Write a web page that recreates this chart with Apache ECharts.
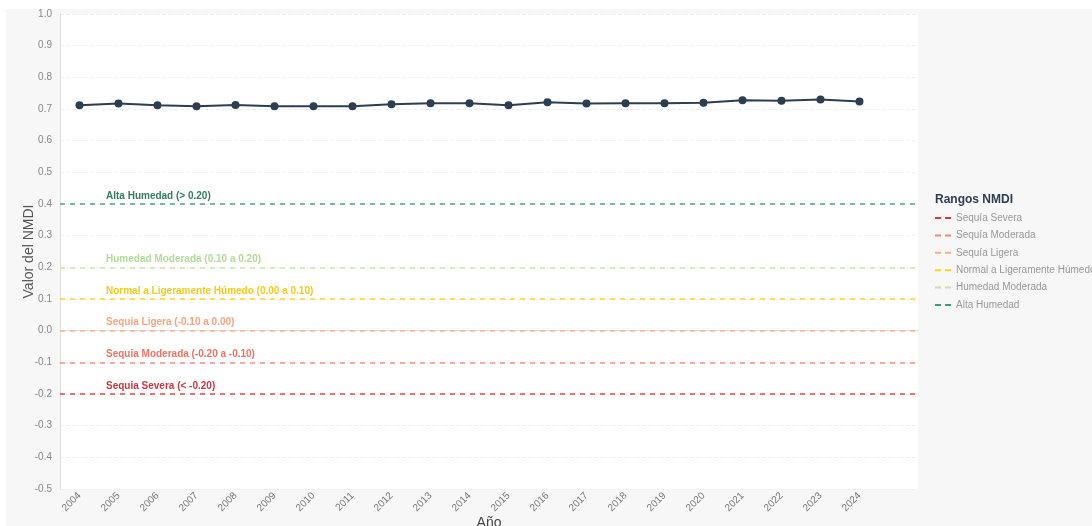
<!DOCTYPE html>
<html>
<head>
<meta charset="utf-8">
<script src="https://cdn.jsdelivr.net/npm/echarts@6/dist/echarts.min.js"></script>
<style>
  html, body { margin: 0; padding: 0; background: #fff; }
  #chart { width: 1092px; height: 526px; }
</style>
</head>
<body>
<div id="chart"></div>
<script>
// años y valores del NMDI
const years = ["2004", "2005", "2006", "2007", "2008", "2009", "2010", "2011", "2012", "2013",
  "2014", "2015", "2016", "2017", "2018", "2019", "2020", "2021", "2022", "2023", "2024"];
const nmdi = [0.712, 0.717, 0.712, 0.709, 0.713, 0.709, 0.709, 0.709, 0.715, 0.718,
  0.718, 0.712, 0.721, 0.717, 0.718, 0.718, 0.720, 0.728, 0.726, 0.730, 0.724];

// rangos NMDI (umbral, nombre de leyenda, etiqueta)
const rangeNames = ["Sequía Severa", "Sequía Moderada", "Sequía Ligera",
  "Normal a Ligeramente Húmedo", "Humedad Moderada", "Alta Humedad"];
const rangeValues = [-0.2, -0.1, 0.0, 0.1, 0.2, 0.4];
const rangeLabels = ["Sequia Severa (< -0.20)", "Sequia Moderada (-0.20 a -0.10)",
  "Sequia Ligera (-0.10 a 0.00)", "Normal a Ligeramente Húmedo (0.00 a 0.10)",
  "Humedad Moderada (0.10 a 0.20)", "Alta Humedad (> 0.20)"];
const rangeColors = ["#e0353b", "#f4867a", "#fbae8c", "#ffd21f", "#c3e6a8", "#3f9a78"];
const labelColors = ["#c8202e", "#ee6450", "#f89a70", "#f5c400", "#a9d98c", "#1b7048"];

const chart = echarts.init(document.getElementById("chart"));

// categoría vacía al final para dejar hueco a la derecha
const xCats = years.concat([""]);

const rangeSeries = rangeNames.map((name, i) => ({
  name: name,
  type: "line",
  data: [],
  symbol: "none",
  itemStyle: { color: rangeColors[i] },
  lineStyle: { color: rangeColors[i], type: "dashed", width: 1.5 },
  markLine: {
    silent: true,
    symbol: "none",
    lineStyle: { color: rangeColors[i], type: [5, 5], width: 1.5, opacity: 0.9 },
    label: {
      show: true,
      position: "insideStartTop",
      formatter: rangeLabels[i],
      color: labelColors[i],
      fontSize: 10,
      fontWeight: "bold",
      fontFamily: "Liberation Sans, Arial",
      padding: [0, 0, 0, 43],
      distance: 3,
    },
    data: [{ yAxis: rangeValues[i] }],
  },
}));

const option = {
  backgroundColor: "#fff",
  animation: false,
  textStyle: { fontFamily: "Liberation Sans, Arial" },
  graphic: [
    {
      type: "rect",
      left: 6,
      top: 9,
      z: -10,
      shape: { width: 1086, height: 517 },
      style: { fill: "#f7f7f7" },
    },
  ],
  title: {
    text: "Rangos NMDI",
    left: 930,
    top: 189,
    textStyle: { fontSize: 12, fontWeight: "bold", color: "#2c3e50" },
  },
  legend: {
    orient: "vertical",
    left: 930,
    top: 208,
    itemWidth: 16,
    itemHeight: 10,
    itemGap: 7.4,
    icon: "path://M0,4 L6,4 L6,6 L0,6 Z M10,4 L16,4 L16,6 L10,6 Z",
    data: rangeNames,
    textStyle: { fontSize: 10, color: "#999" },
  },
  grid: {
    left: 60,
    right: 174,
    top: 14,
    bottom: 37,
    outerBoundsMode: "none",
    containLabel: false,
    show: true,
    backgroundColor: "#fff",
    borderWidth: 0,
  },
  xAxis: {
    type: "category",
    data: xCats,
    boundaryGap: true,
    name: "Año",
    nameLocation: "middle",
    nameGap: 27,
    nameMoveOverlap: false,
    nameTextStyle: { fontSize: 14, color: "#444" },
    axisLine: { lineStyle: { color: "#ddd" } },
    axisTick: { show: false },
    axisLabel: { rotate: 45, fontSize: 10, color: "#777", margin: 5 },
    splitLine: { show: false },
  },
  yAxis: {
    type: "value",
    min: -0.5,
    max: 1.0,
    interval: 0.1,
    name: "Valor del NMDI",
    nameLocation: "middle",
    nameGap: 24,
    nameMoveOverlap: false,
    nameTextStyle: { fontSize: 14, color: "#555" },
    axisLine: { show: true, lineStyle: { color: "#ddd" } },
    axisTick: { show: false },
    axisLabel: {
      fontSize: 10,
      color: "#888",
      margin: 8,
      formatter: (v) => v.toFixed(1),
    },
    splitLine: { show: true, lineStyle: { color: "#f0f0f0", type: "dashed" } },
  },
  series: [
    {
      name: "NMDI",
      type: "line",
      data: nmdi,
      symbol: "circle",
      symbolSize: 8,
      itemStyle: { color: "#2c3e50" },
      lineStyle: { color: "#2c3e50", width: 2 },
      z: 5,
    },
  ].concat(rangeSeries),
};

chart.setOption(option);
</script>
</body>
</html>
